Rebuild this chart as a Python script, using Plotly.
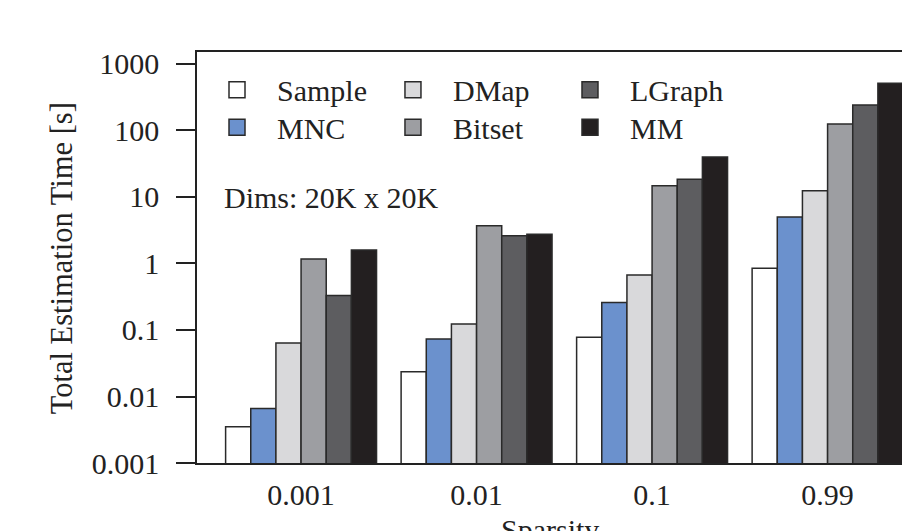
import plotly.graph_objects as go

sparsity = ["0.001", "0.01", "0.1", "0.99"]
methods = ["Sample", "MNC", "DMap", "Bitset", "LGraph", "MM"]
sample = [0.0035, 0.0236, 0.078, 0.85]
mnc = [0.0066, 0.073, 0.26, 5.0]
dmap = [0.064, 0.123, 0.67, 12.4]
bitset = [1.17, 3.7, 14.8, 125]
lgraph = [0.33, 2.62, 18.5, 242]
mm = [1.6, 2.75, 40, 513]
colors = ["#ffffff", "#6b91cd", "#d9d9db", "#9d9ea2", "#5d5d60", "#231f20"]
y_ticks = [0.001, 0.01, 0.1, 1, 10, 100, 1000]
y_tick_text = ["0.001", "0.01", "0.1", "1", "10", "100", "1000"]

series = [sample, mnc, dmap, bitset, lgraph, mm]
FONT = "Liberation Serif"
INK = "#222222"
FS = 30

# legend grid: (column x, row y) in paper coords, one legend per entry
legend_cols = [0.0, 0.2496, 0.5007]
legend_rows = [0.9715, 0.880]

fig = go.Figure()
for name, vals, col in zip(methods, series, colors):
    fig.add_trace(go.Bar(
        x=sparsity, y=vals, name=name, showlegend=False,
        marker=dict(color=col, line=dict(color="#2a2a2a", width=1.5)),
    ))

legend_layouts = {}
for i, (name, col) in enumerate(zip(methods, colors)):
    key = "legend" if i == 0 else f"legend{i + 1}"
    fig.add_trace(go.Scatter(
        x=[None], y=[None], mode="markers", name=name, legend=key,
        marker=dict(symbol="square", size=16, color=col,
                    line=dict(color="#2a2a2a", width=1.5)),
    ))
    legend_layouts[key] = dict(
        x=legend_cols[i // 2], y=legend_rows[i % 2],
        xanchor="left", yanchor="top", orientation="v",
        itemwidth=70, bgcolor="rgba(0,0,0,0)",
        font=dict(family=FONT, size=FS, color=INK),
    )

fig.update_layout(
    width=902, height=531,
    margin=dict(l=197, r=0, t=52, b=68),
    paper_bgcolor="white", plot_bgcolor="white",
    barmode="group", bargap=0.14, bargroupgap=0,
    font=dict(family=FONT, size=FS, color=INK),
    showlegend=True,
    xaxis=dict(
        type="category", range=[-0.593, 3.424],
        showline=True, linecolor=INK, linewidth=1.5, mirror=True,
        ticks="", ticklabelstandoff=4, showgrid=False, zeroline=False,
        tickfont=dict(family=FONT, size=FS, color=INK),
    ),
    yaxis=dict(
        type="log", range=[-3, 3.18],
        showline=True, linecolor=INK, linewidth=1.5, mirror=False,
        ticks="outside", ticklen=19, tickwidth=1.5, tickcolor=INK,
        tickvals=y_ticks, ticktext=y_tick_text, ticklabelstandoff=11,
        showgrid=False, zeroline=False,
        tickfont=dict(family=FONT, size=FS, color=INK),
    ),
    annotations=[
        dict(text="Dims: 20K x 20K", xref="paper", yref="paper",
             x=0.0355, y=0.6456, xanchor="left", yanchor="middle",
             showarrow=False, font=dict(family=FONT, size=FS, color=INK)),
        dict(text="Total Estimation Time [s]", xref="paper", yref="paper",
             x=-0.1915, y=0.498, xanchor="center", yanchor="middle",
             textangle=-90, showarrow=False,
             font=dict(family=FONT, size=30.5, color=INK)),
        dict(text="Sparsity", xref="paper", yref="paper",
             x=0.5, y=-0.116, xanchor="center", yanchor="top",
             showarrow=False, font=dict(family=FONT, size=FS, color=INK)),
    ],
)
fig.update_layout(**legend_layouts)

fig.write_html(
    "out.html",
    config={"displayModeBar": False},
    post_script="document.body.style.margin='0';document.body.style.overflow='hidden';",
)
